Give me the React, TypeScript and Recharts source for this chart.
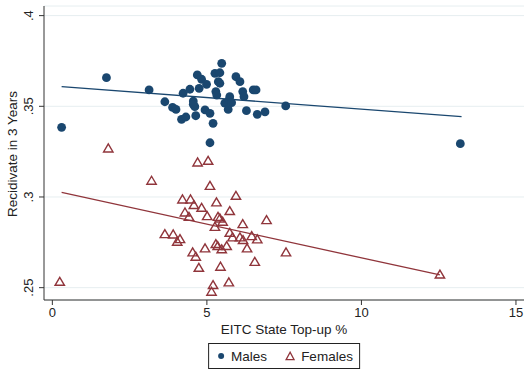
import { ScatterChart, Scatter, XAxis, YAxis, CartesianGrid } from "recharts"

// EITC state top-up % (x) and 3-year recidivism rate (y)
const malesX = [
  0.3, 1.75, 3.13, 3.64, 3.89, 4.0, 4.18, 4.32, 4.23, 4.45, 4.56, 4.61, 4.64, 4.69, 4.83,
  4.75, 4.99, 4.94, 5.1, 5.2, 5.1, 5.26, 5.42, 5.37, 5.42, 5.48, 5.29, 5.32, 5.58, 5.72,
  5.8, 5.69, 5.74, 5.94, 6.07, 6.16, 6.2, 6.5, 6.59, 6.28, 6.63, 6.88, 7.55, 13.2, 4.56,
]
const malesY = [
  0.3384, 0.3658, 0.359, 0.3525, 0.3494, 0.3483, 0.3428, 0.3441, 0.3572, 0.3594, 0.3529,
  0.3498, 0.3448, 0.3673, 0.3649, 0.3599, 0.3621, 0.348, 0.3461, 0.3406, 0.3299, 0.3682,
  0.3685, 0.3636, 0.3627, 0.3737, 0.3581, 0.3562, 0.3517, 0.3535, 0.352, 0.3483, 0.3553,
  0.3663, 0.3636, 0.3581, 0.3553, 0.359, 0.359, 0.3476, 0.3456, 0.3469, 0.3502, 0.3294,
  0.3511,
]
const femalesX = [
  0.24, 1.81, 3.21, 3.64, 3.91, 4.04, 4.13, 4.21, 4.47, 4.58, 4.83, 4.29, 4.42, 4.7, 5.04,
  5.1, 5.94, 5.31, 5.74, 5.01, 5.36, 5.42, 5.51, 5.26, 6.16, 6.93, 5.74, 5.83, 6.07, 6.17,
  6.45, 6.63, 6.3, 5.29, 5.35, 5.64, 4.94, 5.48, 4.54, 4.64, 7.56, 6.55, 4.74, 5.44, 5.71,
  5.2, 5.15, 12.54,
]
const femalesY = [
  0.2533, 0.3268, 0.309, 0.2796, 0.2794, 0.2754, 0.2768, 0.2987, 0.2987, 0.2956, 0.2941,
  0.2915, 0.2891, 0.3191, 0.32, 0.3062, 0.3007, 0.2971, 0.2923, 0.2895, 0.2891, 0.2882,
  0.2864, 0.2836, 0.2851, 0.2873, 0.2803, 0.2778, 0.2778, 0.2763, 0.2785, 0.2767, 0.2717,
  0.2741, 0.273, 0.273, 0.2717, 0.2712, 0.2695, 0.2671, 0.2695, 0.2643, 0.261, 0.2616,
  0.253, 0.2515, 0.2478, 0.2573,
]
// linear fit endpoints
const maleFitX = [0.3, 13.24]
const maleFitY = [0.3608, 0.3443]
const femaleFitX = [0.3, 12.54]
const femaleFitY = [0.3025, 0.257]

const xTicks = [0, 5, 10, 15]
const yTicks = [0.25, 0.3, 0.35, 0.4]

const NAVY = "#1a476f"
const MAROON = "#90353b"

const zip = (xs: number[], ys: number[]) => xs.map((x, i) => ({ x, y: ys[i] }))

function Dot(props: any) {
  const { cx, cy } = props
  return <circle cx={cx} cy={cy} r={4.4} fill={NAVY} />
}

function Tri(props: any) {
  const { cx, cy } = props
  const pts = `${cx},${cy - 4.4} ${cx - 4.7},${cy + 3.6} ${cx + 4.7},${cy + 3.6}`
  return <polygon points={pts} fill="none" stroke={MAROON} strokeWidth={1.4} />
}

function YTick(props: any) {
  const { y, payload } = props
  const lbl = String(payload.value).replace(/^0/, "")
  return (
    <text
      x={33}
      y={y}
      transform={`rotate(-90, 33, ${y})`}
      textAnchor="middle"
      fontSize={13}
      fill="#222"
    >
      {lbl}
    </text>
  )
}

export default function App() {
  return (
    <div
      style={{
        position: "absolute",
        left: 0,
        top: 0,
        width: 532,
        height: 376,
        background: "#fff",
        fontFamily: "'Liberation Sans', Arial, sans-serif",
      }}
    >
      <ScatterChart width={532} height={376} margin={{ top: 6, right: 8, left: 0, bottom: 46 }}>
        <CartesianGrid vertical={false} stroke="#e6eef0" />
        <XAxis
          type="number"
          dataKey="x"
          domain={[-0.27, 15.26]}
          ticks={xTicks}
          height={30}
          tickSize={5}
          tickMargin={3}
          stroke="#333"
          tick={{ fill: "#222", fontSize: 13 }}
          allowDataOverflow
        />
        <YAxis
          type="number"
          dataKey="y"
          domain={[0.2432, 0.4053]}
          ticks={yTicks}
          width={44}
          tickSize={5}
          stroke="#333"
          tick={<YTick />}
          allowDataOverflow
        />
        <Scatter data={zip(malesX, malesY)} shape={<Dot />} isAnimationActive={false} />
        <Scatter data={zip(femalesX, femalesY)} shape={<Tri />} isAnimationActive={false} />
        <Scatter
          data={zip(maleFitX, maleFitY)}
          line={{ stroke: NAVY, strokeWidth: 1.3 }}
          shape={() => <g />}
          isAnimationActive={false}
        />
        <Scatter
          data={zip(femaleFitX, femaleFitY)}
          line={{ stroke: MAROON, strokeWidth: 1.3 }}
          shape={() => <g />}
          isAnimationActive={false}
        />
      </ScatterChart>

      {/* y axis title */}
      <div
        style={{
          position: "absolute",
          left: 12,
          top: 154,
          transform: "translate(-50%, -50%) rotate(-90deg)",
          whiteSpace: "nowrap",
          fontSize: 13.5,
          color: "#222",
        }}
      >
        Recidivate in 3 Years
      </div>

      {/* x axis title */}
      <div
        style={{
          position: "absolute",
          left: 284,
          top: 329,
          transform: "translate(-50%, -50%)",
          whiteSpace: "nowrap",
          fontSize: 13.5,
          color: "#222",
        }}
      >
        EITC State Top-up %
      </div>

      {/* legend */}
      <div
        style={{
          position: "absolute",
          left: 284,
          top: 343,
          transform: "translateX(-50%)",
          height: 26,
          border: "1px solid #222",
          display: "flex",
          alignItems: "center",
          padding: "0 6px 0 8px",
          fontSize: 13.5,
          color: "#222",
          whiteSpace: "nowrap",
          boxSizing: "border-box",
        }}
      >
        <svg width={8} height={8} style={{ marginRight: 6 }}>
          <circle cx={4} cy={4} r={3} fill={NAVY} />
        </svg>
        <span>Males</span>
        <svg width={10} height={10} style={{ marginLeft: 18, marginRight: 6 }}>
          <polygon points="5,1.2 1,8.6 9,8.6" fill="none" stroke={MAROON} strokeWidth={1.3} />
        </svg>
        <span>Females</span>
      </div>
    </div>
  )
}
